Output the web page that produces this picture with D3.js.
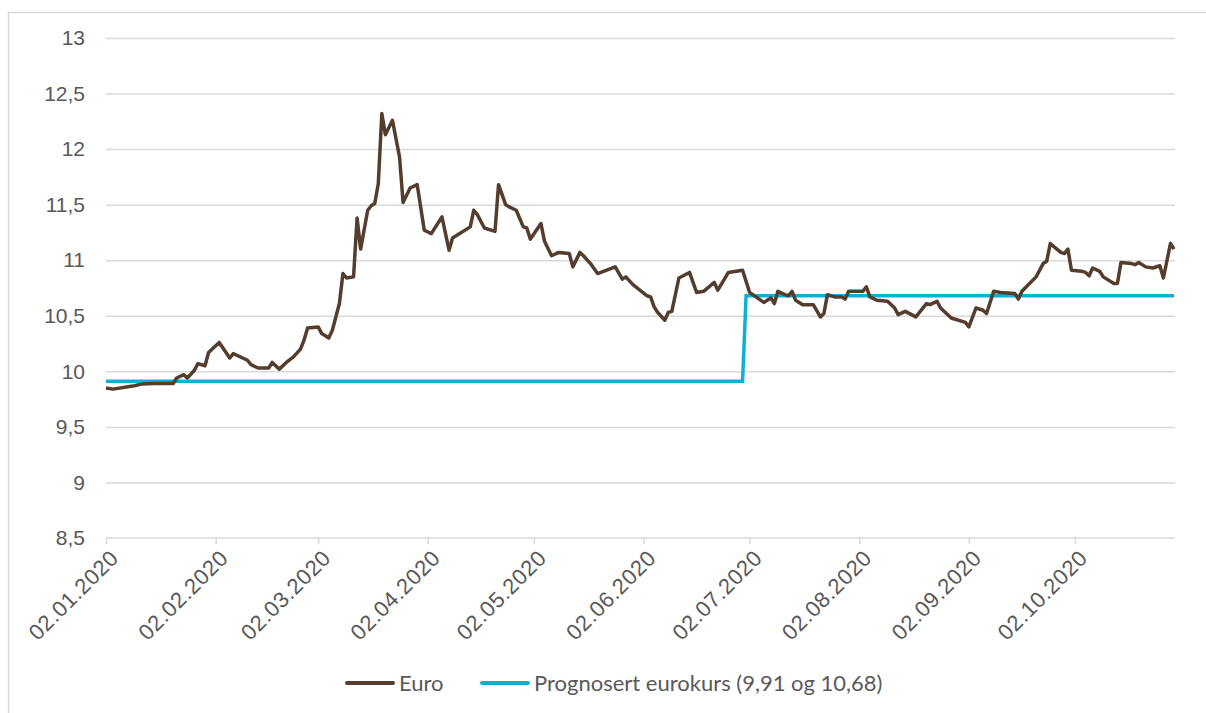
<!DOCTYPE html>
<html>
<head>
<meta charset="utf-8">
<script src="https://cdn.jsdelivr.net/npm/d3@7"></script>
<style>
  body { margin: 0; background: #fff; }
  svg { display: block; font-family: Lato, "Open Sans", sans-serif; }
</style>
</head>
<body>
<svg width="1206" height="713"></svg>
<script>
// Euro exchange rate (NOK per EUR)
var euroDates = [
  "02.01.2020","04.01.2020","10.01.2020","12.01.2020","16.01.2020","18.01.2020","21.01.2020","22.01.2020",
  "24.01.2020","25.01.2020","27.01.2020","28.01.2020","30.01.2020","31.01.2020","03.02.2020","06.02.2020",
  "07.02.2020","11.02.2020","12.02.2020","14.02.2020","17.02.2020","18.02.2020","20.02.2020","22.02.2020",
  "24.02.2020","26.02.2020","27.02.2020","28.02.2020","02.03.2020","03.03.2020","05.03.2020","06.03.2020",
  "08.03.2020","09.03.2020","10.03.2020","12.03.2020","13.03.2020","14.03.2020","16.03.2020","17.03.2020",
  "18.03.2020","19.03.2020","20.03.2020","21.03.2020","23.03.2020","25.03.2020","26.03.2020","28.03.2020",
  "30.03.2020","01.04.2020","03.04.2020","06.04.2020","08.04.2020","09.04.2020","14.04.2020","15.04.2020",
  "16.04.2020","18.04.2020","21.04.2020","22.04.2020","24.04.2020","25.04.2020","27.04.2020","29.04.2020",
  "30.04.2020","01.05.2020","04.05.2020","05.05.2020","07.05.2020","09.05.2020","12.05.2020","13.05.2020",
  "15.05.2020","16.05.2020","18.05.2020","20.05.2020","25.05.2020","27.05.2020","28.05.2020","30.05.2020",
  "03.06.2020","04.06.2020","05.06.2020","06.06.2020","08.06.2020","09.06.2020","10.06.2020","12.06.2020",
  "15.06.2020","17.06.2020","19.06.2020","22.06.2020","23.06.2020","26.06.2020","30.06.2020","02.07.2020",
  "06.07.2020","08.07.2020","09.07.2020","10.07.2020","12.07.2020","13.07.2020","14.07.2020","15.07.2020",
  "17.07.2020","20.07.2020","22.07.2020","23.07.2020","24.07.2020","26.07.2020","28.07.2020","29.07.2020",
  "30.07.2020","03.08.2020","04.08.2020","05.08.2020","07.08.2020","10.08.2020","12.08.2020","13.08.2020",
  "15.08.2020","18.08.2020","21.08.2020","22.08.2020","24.08.2020","25.08.2020","28.08.2020","01.09.2020",
  "02.09.2020","04.09.2020","06.09.2020","07.09.2020","09.09.2020","11.09.2020","15.09.2020","16.09.2020",
  "17.09.2020","21.09.2020","23.09.2020","24.09.2020","25.09.2020","28.09.2020","29.09.2020","30.09.2020",
  "01.10.2020","04.10.2020","05.10.2020","06.10.2020","07.10.2020","09.10.2020","10.10.2020","13.10.2020",
  "14.10.2020","15.10.2020","18.10.2020","19.10.2020","20.10.2020","22.10.2020","24.10.2020","26.10.2020",
  "27.10.2020","29.10.2020","30.10.2020"
];
var euroValues = [
  9.85, 9.84, 9.87, 9.885, 9.89, 9.89, 9.89, 9.94,
  9.97, 9.94, 10.01, 10.07, 10.05, 10.17, 10.26, 10.12,
  10.16, 10.10, 10.06, 10.03, 10.03, 10.08, 10.02, 10.08,
  10.13, 10.20, 10.28, 10.39, 10.40, 10.34, 10.30, 10.37,
  10.61, 10.88, 10.84, 10.85, 11.38, 11.10, 11.45, 11.49,
  11.51, 11.69, 12.32, 12.13, 12.26, 11.93, 11.52, 11.65,
  11.68, 11.27, 11.24, 11.39, 11.09, 11.20, 11.30, 11.45,
  11.41, 11.29, 11.26, 11.68, 11.50, 11.48, 11.45, 11.30,
  11.29, 11.19, 11.33, 11.17, 11.04, 11.07, 11.06, 10.94,
  11.07, 11.04, 10.97, 10.88, 10.94, 10.83, 10.85, 10.78,
  10.68, 10.67, 10.58, 10.53, 10.46, 10.53, 10.54, 10.84,
  10.89, 10.71, 10.72, 10.80, 10.73, 10.89, 10.91, 10.71,
  10.62, 10.66, 10.61, 10.72, 10.69, 10.68, 10.72, 10.64,
  10.60, 10.60, 10.49, 10.52, 10.69, 10.67, 10.67, 10.65,
  10.72, 10.72, 10.76, 10.67, 10.64, 10.63, 10.57, 10.51,
  10.54, 10.49, 10.61, 10.60, 10.63, 10.57, 10.48, 10.44,
  10.40, 10.57, 10.55, 10.52, 10.72, 10.71, 10.70, 10.65,
  10.72, 10.85, 10.97, 10.99, 11.15, 11.07, 11.06, 11.10,
  10.91, 10.90, 10.89, 10.86, 10.93, 10.90, 10.85, 10.79,
  10.79, 10.98, 10.97, 10.96, 10.98, 10.94, 10.93, 10.95,
  10.84, 11.15, 11.10
];

// forecast rate: 9,91 first half, 10,68 second half
var forecastDates = ["02.01.2020", "30.06.2020", "01.07.2020", "30.10.2020"];
var forecastValues = [9.91, 9.91, 10.68, 10.68];

var xTickLabels = ["02.01.2020","02.02.2020","02.03.2020","02.04.2020","02.05.2020",
                   "02.06.2020","02.07.2020","02.08.2020","02.09.2020","02.10.2020"];
var yTicks = [8.5, 9, 9.5, 10, 10.5, 11, 11.5, 12, 12.5, 13];

var seriesNames = ["Euro", "Prognosert eurokurs (9,91 og 10,68)"];
var seriesColors = ["#553d2e", "#0cb0d8"];

var parse = d3.utcParse("%d.%m.%Y");
var svg = d3.select("svg");

var plot = {left: 106, right: 1174, top: 38, bottom: 538};

var x = d3.scaleUtc()
    .domain([parse("02.01.2020"), parse("30.10.2020")])
    .range([plot.left, plot.right]);

var y = d3.scaleLinear()
    .domain([8.5, 13])
    .range([plot.bottom, plot.top]);

// chart border
svg.append("rect")
    .attr("x", 8.5).attr("y", 12.5)
    .attr("width", 1220).attr("height", 720)
    .attr("fill", "none")
    .attr("stroke", "#d9d9d9")
    .attr("stroke-width", 1.5);

// y axis with gridlines
var yAxis = d3.axisLeft(y)
    .tickValues(yTicks)
    .tickSize(-(plot.right + 1 - plot.left))
    .tickPadding(21)
    .tickFormat(function(d) { return String(d).replace(".", ","); });

svg.append("g")
    .attr("transform", "translate(" + plot.left + ",0)")
    .call(yAxis)
    .call(function(g) {
      g.select(".domain").remove();
      g.selectAll(".tick line").attr("stroke", "#d9d9d9").attr("stroke-width", 1.5)
        .filter(function(d) { return d === 8.5; }).remove();
      g.selectAll(".tick text").attr("fill", "#595959").attr("font-size", 21);
    });

// x axis
var xAxis = d3.axisBottom(x)
    .tickValues(xTickLabels.map(parse))
    .tickSize(6)
    .tickSizeOuter(0)
    .tickFormat(d3.utcFormat("%d.%m.%Y"));

svg.append("g")
    .attr("transform", "translate(0," + plot.bottom + ")")
    .call(xAxis)
    .call(function(g) {
      g.select(".domain").attr("stroke", "#d9d9d9").attr("stroke-width", 1.5)
        .attr("d", "M" + plot.left + ",0H" + (plot.right + 1));
      g.selectAll(".tick line").attr("stroke", "#d9d9d9").attr("stroke-width", 1.5);
      g.selectAll(".tick text")
        .attr("fill", "#595959")
        .attr("font-size", 22)
        .attr("letter-spacing", 0.6)
        .attr("text-anchor", "end")
        .attr("dy", 0)
        .attr("transform", "translate(7,15) rotate(-45)");
    });

var line = d3.line()
    .x(function(d) { return x(d[0]); })
    .y(function(d) { return y(d[1]); });

var euroData = euroDates.map(function(d, i) { return [parse(d), euroValues[i]]; });
var forecastData = forecastDates.map(function(d, i) { return [parse(d), forecastValues[i]]; });

svg.append("path")
    .datum(forecastData)
    .attr("fill", "none")
    .attr("stroke", seriesColors[1])
    .attr("stroke-width", 3.5)
    .attr("d", line);

svg.append("path")
    .datum(euroData)
    .attr("fill", "none")
    .attr("stroke", seriesColors[0])
    .attr("stroke-width", 3.5)
    .attr("stroke-linejoin", "round")
    .attr("d", line);

// legend
var legendX = [347, 482];
var legend = svg.append("g").selectAll("g")
    .data(seriesNames)
    .enter()
    .append("g")
    .attr("transform", function(d, i) { return "translate(" + legendX[i] + ",683)"; });

legend.append("line")
    .attr("x1", 0).attr("x2", 46)
    .attr("stroke", function(d, i) { return seriesColors[i]; })
    .attr("stroke-width", 4)
    .attr("stroke-linecap", "round");

legend.append("text")
    .attr("x", 52)
    .attr("dy", "0.35em")
    .attr("fill", "#595959")
    .attr("font-size", 22)
    .text(function(d) { return d; });
</script>
</body>
</html>
